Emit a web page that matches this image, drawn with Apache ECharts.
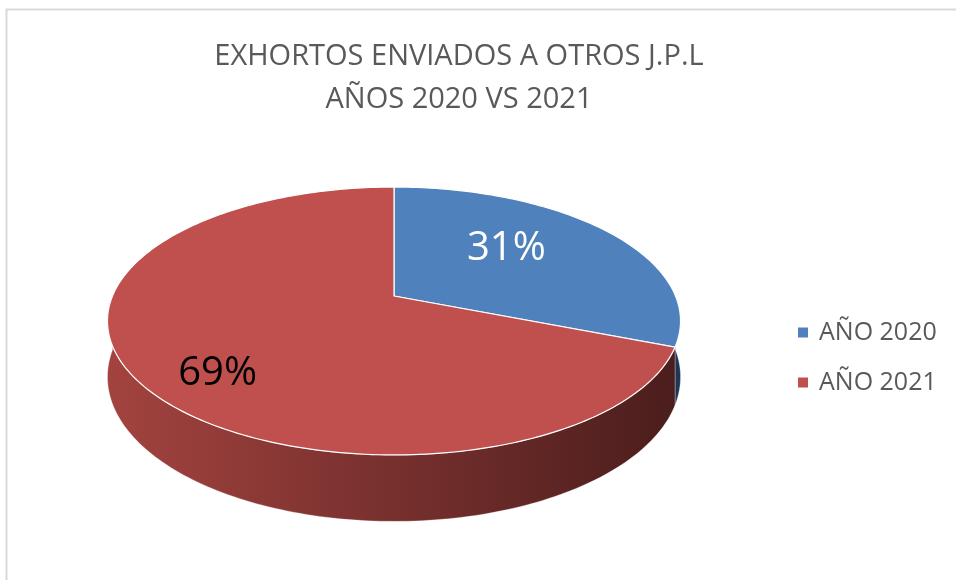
<!DOCTYPE html>
<html>
<head>
<meta charset="utf-8">
<script src="https://cdn.jsdelivr.net/npm/echarts@6/dist/echarts.min.js"></script>
<style>
  html, body { margin: 0; padding: 0; background: #fff; }
  #chart { width: 956px; height: 580px; }
</style>
</head>
<body>
<div id="chart"></div>
<script>
var titleLines = ['EXHORTOS ENVIADOS A OTROS J.P.L', 'AÑOS 2020 VS 2021'];
var categories = ['AÑO 2020', 'AÑO 2021'];
var values = [31, 69];
var colors = ['#4f81bd', '#c0504d'];
var labelColors = ['#ffffff', '#000000'];
var sideColors = [['#3b6494', '#1f3554'], ['#a3433f', '#4a1d1c']];

// 3d-look pie: ellipse with a bit of perspective, plus a rim
var pie = { cx: 394, cy: 296, rx: 281.5, ry: 129.3, persp: 0.1866, depth: 54 };
// labels sit on a smaller, shifted ellipse (like excel does it)
var labelRing = { dx: -32, dy: 15, fx: 0.62, fy: 0.86 };
var total = values.reduce(function (a, b) { return a + b; }, 0);

function project(phi, f, down) {
  // phi measured clockwise from 12 o'clock
  var X = Math.sin(phi) * f;
  var Z = -Math.cos(phi) * f;
  var w = 1 / (1 - pie.persp * Z);
  return [pie.cx + pie.rx * X * w, pie.cy + pie.ry * Z * w + (down ? pie.depth * w : 0)];
}

function arcPoints(a0, a1, down) {
  var pts = [];
  var n = Math.max(2, Math.ceil((a1 - a0) / 0.02));
  for (var k = 0; k <= n; k++) {
    pts.push(project(a0 + (a1 - a0) * k / n, 1, down));
  }
  return pts;
}

function sliceAngles(i) {
  var before = 0;
  for (var k = 0; k < i; k++) before += values[k];
  return [2 * Math.PI * before / total, 2 * Math.PI * (before + values[i]) / total];
}

function renderSlice(i) {
  return function (params, api) {
    var ang = sliceAngles(i);
    var a0 = ang[0], a1 = ang[1];
    var children = [];

    // visible part of the rim (front half)
    var s0 = Math.max(a0, Math.PI / 2);
    var s1 = Math.min(a1, Math.PI * 3 / 2);
    if (s1 > s0) {
      var sidePts = arcPoints(s0, s1, false).concat(arcPoints(s0, s1, true).reverse());
      children.push({
        type: 'polygon',
        z2: 1,
        shape: { points: sidePts },
        style: {
          fill: new echarts.graphic.LinearGradient(pie.cx - pie.rx * 1.02, 0, pie.cx + pie.rx * 1.02, 0, [
            { offset: 0, color: sideColors[i][0] },
            { offset: 1, color: sideColors[i][1] }
          ], true),
          stroke: 'rgba(255,255,255,0.6)',
          lineWidth: 0.5
        }
      });
    }

    // top face
    var topPts = [project(0, 0, false)].concat(arcPoints(a0, a1, false));
    children.push({
      type: 'polygon',
      z2: 10,
      shape: { points: topPts },
      style: { fill: colors[i], stroke: '#ffffff', lineWidth: 1.2 }
    });

    // percentage label
    var mid = (a0 + a1) / 2;
    children.push({
      type: 'text',
      z2: 20,
      x: pie.cx + labelRing.dx + pie.rx * labelRing.fx * Math.sin(mid),
      y: pie.cy + labelRing.dy - pie.ry * labelRing.fy * Math.cos(mid),
      style: {
        text: Math.round(api.value(0) / total * 100) + '%',
        fill: labelColors[i],
        font: '40px "Open Sans"',
        align: 'center',
        verticalAlign: 'middle'
      }
    });

    return { type: 'group', children: children };
  };
}

var myChart = echarts.init(document.getElementById('chart'));

var series = categories.map(function (name, i) {
  return {
    type: 'custom',
    name: name,
    coordinateSystem: 'none',
    silent: true,
    itemStyle: { color: colors[i] },
    data: [values[i]],
    renderItem: renderSlice(i)
  };
});

var option = {
  animation: false,
  backgroundColor: '#ffffff',
  title: {
    text: titleLines.join('\n'),
    left: 459,
    top: 35,
    textAlign: 'center',
    padding: 0,
    textStyle: {
      color: '#595959',
      fontFamily: 'Open Sans',
      fontWeight: 'normal',
      fontSize: 29,
      lineHeight: 43
    }
  },
  legend: {
    orient: 'vertical',
    left: 793,
    top: 315,
    icon: 'rect',
    itemWidth: 10,
    itemHeight: 10,
    itemGap: 25,
    data: categories,
    textStyle: {
      color: '#595959',
      fontFamily: 'Open Sans',
      fontSize: 25,
      lineHeight: 25,
      padding: [0, 0, 0, 6]
    }
  },
  graphic: [{
    type: 'rect',
    silent: true,
    shape: { x: 6.5, y: 9.5, width: 1000, height: 1000 },
    style: { fill: 'none', stroke: '#d9d9d9', lineWidth: 2 }
  }],
  series: series
};

myChart.setOption(option);
</script>
</body>
</html>
